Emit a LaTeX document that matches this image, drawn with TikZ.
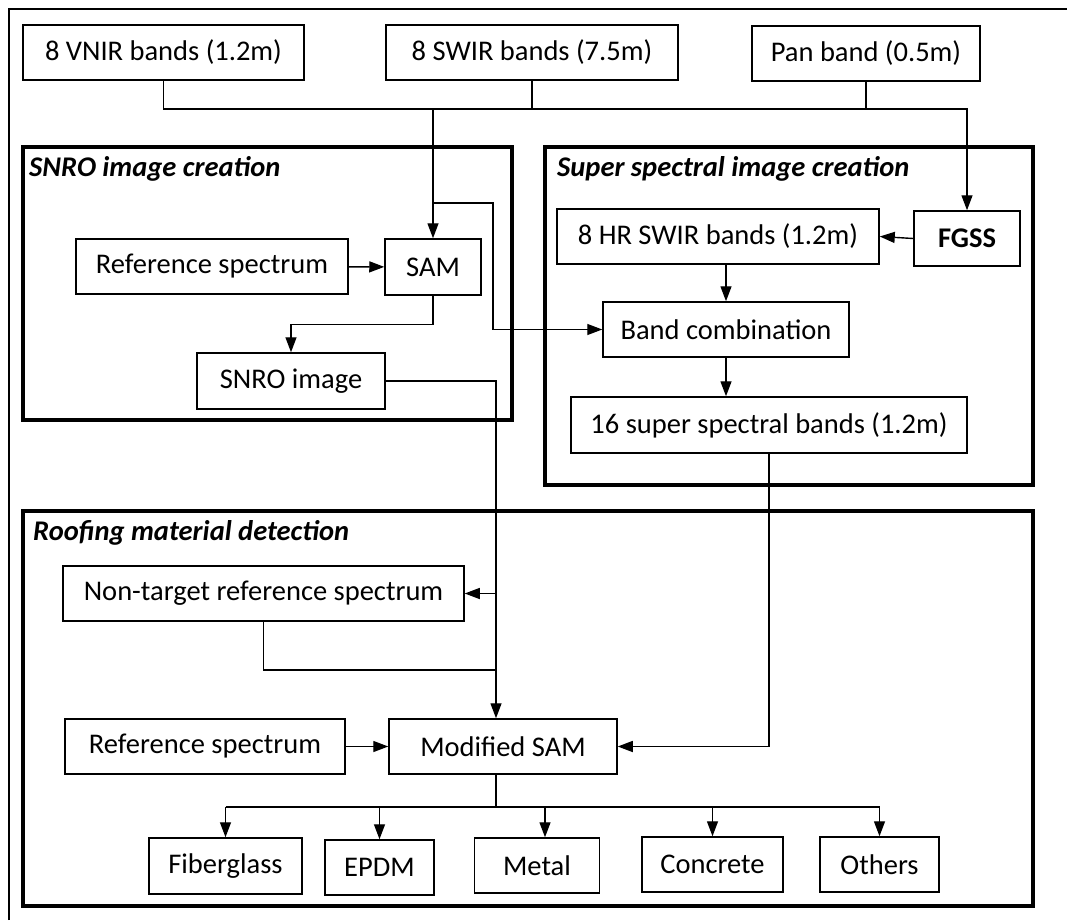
\documentclass[tikz,border=0pt]{standalone}
\usepackage{fontspec}
\setmainfont{Carlito}
\usetikzlibrary{arrows.meta}
\begin{document}
\begin{tikzpicture}[x=1pt,y=-1pt,
  box/.style={draw, line width=1.5pt, inner sep=0pt, minimum height=55pt,
    font=\fontsize{28.5}{32}\selectfont},
  group/.style={draw, line width=3.6pt},
  grouptitle/.style={anchor=west, inner sep=0pt, font=\fontsize{28.5}{32}\selectfont\bfseries\itshape},
  link/.style={line width=1.4pt},
  heavy/.style={line width=2.8pt},
  arr/.style={-{Triangle[length=15pt,width=11pt]}}]
\useasboundingbox (0,0) rectangle (1067,920);
% outer frame (top and left edges)
\draw[line width=1.6pt] (9,920) -- (9,9) -- (1067,9);

% group frames
\draw[group] (23,147) rectangle (512,420);
\draw[group] (545,147) rectangle (1033,485);
\draw[group] (23,511) rectangle (1033,906);
\node[grouptitle] (t1) at (29,169) {SNRO image creation};
\node[grouptitle] (t2) at (557,169) {Super spectral image creation};
\node[grouptitle] (t3) at (33,533) {Roofing material detection};

% input bands
\node[box, minimum width=281pt] (vnir) at (163.5,52.5) {8 VNIR bands (1.2m)};
\node[box, minimum width=292pt] (swir) at (532,52.5) {8 SWIR bands (7.5m)};
\node[box, minimum width=228pt] (pan) at (866,53.5) {Pan band (0.5m)};

% SNRO image creation
\node[box, minimum width=272pt] (ref1) at (212,266.5) {Reference spectrum};
\node[box, minimum width=96pt, minimum height=56pt] (sam) at (433,267) {SAM};
\node[box, minimum width=188pt, minimum height=56pt] (snro) at (291,381) {SNRO image};

% super spectral image creation
\node[box, minimum width=322pt] (hrswir) at (718,236.5) {8 HR SWIR bands (1.2m)};
\node[box, minimum width=106pt] (fgss) at (967,238.5) {\bfseries FGSS};
\node[box, minimum width=246pt] (bc) at (726,329.5) {Band combination};
\node[box, minimum width=396pt, minimum height=56pt] (ss16) at (769,425) {16 super spectral bands (1.2m)};

% roofing material detection
\node[box, minimum width=401pt] (nontarget) at (263.5,593.5) {Non-target reference spectrum};
\node[box, minimum width=280pt] (ref2) at (205,746.5) {Reference spectrum};
\node[box, minimum width=228pt] (msam) at (503,746.5) {Modified SAM};
\node[box, minimum width=153pt, minimum height=56pt] (fiber) at (225.5,866) {Fiberglass};
\node[box, minimum width=109pt] (epdm) at (379.5,867.5) {EPDM};
\node[box, minimum width=125pt] (metal) at (537,865.5) {Metal};
\node[box, minimum width=141pt] (concrete) at (712.5,864.5) {Concrete};
\node[box, minimum width=119pt] (others) at (879.5,864.5) {Others};

% routing points
\coordinate (bus) at (0,109);
\coordinate (tap) at (493,203);
\coordinate (drop) at (496,0);
\coordinate (join) at (496,670);
\coordinate (fan) at (0,807);

% input bands to SAM and FGSS
\draw[link, arr] (vnir.south) |- (bus -| fgss.north) -- (fgss.north);
\draw[link] (swir.south) -- (swir.south |- bus);
\draw[link] (pan.south) -- (pan.south |- bus);
\draw[link, arr] (sam.north |- bus) -- (sam.north);
\draw[link, arr] (sam.north |- tap) -- (tap) |- (bc.west);

% SNRO chain
\draw[link, arr] (ref1) -- (sam);
\draw[link, arr] (sam.south) -- ++(0,29) -| (snro.north);

% super spectral chain
\draw[link, arr] (fgss.west) -- (hrswir.east);
\draw[link, arr] (hrswir.south -| bc.north) -- (bc.north);
\draw[link, arr] (bc.south) -- (bc.south |- ss16.north);
\draw[link, arr] (ss16.south) |- (msam.east);

% detection chain
\draw[heavy] (snro.east) -| (drop |- nontarget.east);
\draw[link, arr] (drop |- nontarget.east) -- (nontarget.east);
\draw[link, arr] (drop |- nontarget.east) -- (drop |- msam.north);
\draw[link] (nontarget.south) |- (join);
\draw[link, arr] (ref2) -- (msam);

% classes
\draw[heavy] (drop |- msam.south) -- (drop |- fan);
\draw[link] (fiber.north |- fan) -- (others.north |- fan);
\draw[link, arr] (fiber.north |- fan) -- (fiber.north);
\draw[link, arr] (epdm.north |- fan) -- (epdm.north);
\draw[link, arr] ([xshift=8pt]metal.north |- fan) -- ([xshift=8pt]metal.north);
\draw[link, arr] (concrete.north |- fan) -- (concrete.north);
\draw[link, arr] (others.north |- fan) -- (others.north);
\end{tikzpicture}
\end{document}
